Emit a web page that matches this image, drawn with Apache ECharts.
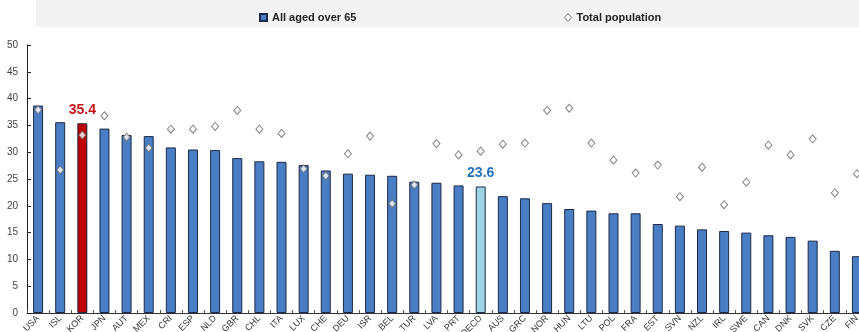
<!DOCTYPE html>
<html>
<head>
<meta charset="utf-8">
<script src="https://cdn.jsdelivr.net/npm/echarts@6/dist/echarts.min.js"></script>
<style>
  html, body { margin: 0; padding: 0; background: #ffffff; }
  #chart { width: 859px; height: 332px; }
</style>
</head>
<body>
<div id="chart"></div>
<script>
// Country codes along the x axis
const countries = ['USA','ISL','KOR','JPN','AUT','MEX','CRI','ESP','NLD','GBR','CHL','ITA','LUX','CHE','DEU','ISR','BEL','TUR','LVA','PRT','OECD','AUS','GRC','NOR','HUN','LTU','POL','FRA','EST','SVN','NZL','IRL','SWE','CAN','DNK','SVK','CZE','FIN'];

// Income poverty rate, all aged over 65 (%)
const aged65 = [38.7,35.6,35.4,34.4,33.2,33.0,30.9,30.5,30.4,28.9,28.3,28.2,27.6,26.6,26.0,25.8,25.6,24.5,24.3,23.8,23.6,21.8,21.4,20.5,19.4,19.1,18.6,18.6,16.6,16.3,15.6,15.3,15.0,14.5,14.2,13.5,11.6,10.6];

// Income poverty rate, total population (%)
const totalPop = [37.9,26.7,33.2,36.8,32.8,30.8,34.3,34.3,34.8,37.8,34.3,33.5,26.9,25.6,29.7,33.0,20.4,23.9,31.6,29.5,30.2,31.5,31.7,37.8,38.2,31.7,28.5,26.1,27.6,21.7,27.2,20.2,24.4,31.3,29.5,32.5,22.4,26.0];

// Y axis ticks
const yTicks = { min: 0, max: 50, step: 5 };

// Highlighted bars and their colours
const highlight = { KOR: '#c00000', OECD: '#9fd3e6' };
const labelColor = { KOR: '#c8141b', OECD: '#1f72c0' };

const barBlue = '#4a7ec4';
const barEdge = '#1c2a48';

const barData = aged65.map((v, i) => {
  const c = countries[i];
  if (highlight[c]) {
    return {
      value: v,
      itemStyle: { color: highlight[c] },
      label: {
        show: true, position: 'top', distance: 6,
        formatter: (p) => p.value.toFixed(1),
        color: labelColor[c], fontSize: 14, fontWeight: 'bold',
        fontFamily: 'Liberation Sans, Arial, sans-serif'
      }
    };
  }
  return v;
});

const legendText = { fontSize: 11, fontWeight: 'bold', color: '#222', fontFamily: 'Liberation Sans, Arial, sans-serif' };

const chart = echarts.init(document.getElementById('chart'), null, { renderer: 'canvas' });

chart.setOption({
  animation: false,
  backgroundColor: '#ffffff',
  graphic: [{
    type: 'rect', z: -10,
    shape: { x: 36, y: 0, width: 823, height: 27 },
    style: { fill: '#f3f3f3' }
  }],
  legend: [{
    data: [{ name: 'All aged over 65', icon: 'rect' }],
    left: 254, top: 7,
    itemWidth: 7, itemHeight: 7, itemGap: 3,
    textStyle: legendText
  }, {
    data: [{ name: 'Total population', icon: 'diamond', itemStyle: { color: '#ffffff', borderColor: '#555', borderWidth: 1 } }],
    left: 559, top: 7,
    itemWidth: 7, itemHeight: 8, itemGap: 3,
    textStyle: legendText
  }],
  // plot area runs past the right edge of the canvas
  grid: { left: 27, width: 841, top: 45, bottom: 19, containLabel: false, outerBoundsMode: 'none' },
  xAxis: {
    type: 'category',
    data: countries,
    axisLine: { lineStyle: { color: '#333', width: 1 } },
    axisTick: { show: true, inside: true, length: 3, interval: 0, lineStyle: { color: '#555' } },
    axisLabel: {
      interval: 0, rotate: 45, fontSize: 9, margin: 4, color: '#333',
      fontFamily: 'Liberation Sans, Arial, sans-serif'
    }
  },
  yAxis: {
    type: 'value',
    min: yTicks.min, max: yTicks.max, interval: yTicks.step,
    axisLine: { show: true, lineStyle: { color: '#222' } },
    axisTick: { show: true, inside: true, length: 4, lineStyle: { color: '#222' } },
    splitLine: { show: false },
    axisLabel: { fontSize: 10, color: '#444', margin: 9, fontFamily: 'Liberation Sans Narrow, Liberation Sans, Arial, sans-serif' }
  },
  series: [{
    name: 'All aged over 65',
    type: 'bar',
    data: barData,
    barWidth: 10,
    itemStyle: { color: barBlue, borderColor: barEdge, borderWidth: 1 },
    z: 2
  }, {
    name: 'Total population',
    type: 'scatter',
    data: totalPop,
    symbol: 'diamond',
    symbolSize: [7, 8],
    itemStyle: { color: '#ffffff', borderColor: '#666', borderWidth: 1 },
    z: 3
  }]
});
</script>
</body>
</html>
